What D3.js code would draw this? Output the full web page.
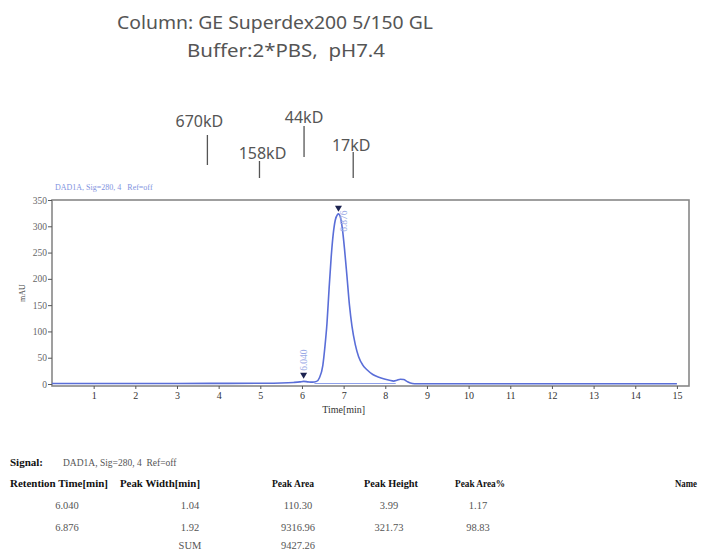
<!DOCTYPE html>
<html><head><meta charset="utf-8">
<script src="https://cdn.jsdelivr.net/npm/d3@7"></script>
<style>body{margin:0;background:#fff}svg{display:block}</style>
</head><body>
<script>
// ---- data ----
const times  = [0,1,2,3,4,5,5.5,5.8,5.95,6.04,6.15,6.25,6.35,6.42,6.5,6.55,6.6,6.65,6.7,6.75,6.8,6.85,6.876,6.92,6.97,7.02,7.08,7.14,7.2,7.28,7.36,7.46,7.56,7.7,7.88,8.0,8.1,8.2,8.28,8.36,8.44,8.52,8.6,8.7,8.85,9,10,11,12,13,14,15];
const signal = [1,1,1,1,1.2,1.5,2,3,4,5,4,3.5,5,12,35,70,115,180,240,285,312,322,323.7,318,295,258,205,150,110,75,52,36,27,18,12,9,7,5.5,7,9,8.5,5,2,0.5,0.5,0.5,0.5,0.5,0.5,0.5,0.5,0.5];
const peakTimes   = [6.040, 6.876];
const peakLabels  = ["6.040", "6.876"];
const peakHeights = [3.99, 321.73];
const mwLabels = ["670kD","158kD","44kD","17kD"];
const mwTimes  = [3.73, 4.98, 6.05, 7.23];
const xTicks = [1,2,3,4,5,6,7,8,9,10,11,12,13,14,15];
const yTicks = [0,50,100,150,200,250,300,350];
const tableHeader = ["Retention Time[min]","Peak Width[min]","Peak Area","Peak Height","Peak Area%"];
const rowRT     = ["6.040","6.876",""];
const rowWidth  = ["1.04","1.92","SUM"];
const rowArea   = ["110.30","9316.96","9427.26"];
const rowHeight = ["3.99","321.73",""];
const rowPct    = ["1.17","98.83",""];

const W = 703, H = 551;
const svg = d3.select("body").append("svg").attr("width", W).attr("height", H);

const L = 52, R = 689, T = 200, B = 386;
const x = d3.scaleLinear().domain([0, 15.29]).range([L, R]);
const y = d3.scaleLinear().domain([-3.8, 350]).range([B, T]);

// titles
const tfont = "'Noto Sans','Open Sans',sans-serif";
svg.append("text").attr("x", 275).attr("y", 29).attr("text-anchor","middle")
  .attr("font-family", tfont).attr("font-size", 18).attr("fill","#555")
  .attr("textLength", 316).attr("lengthAdjust","spacingAndGlyphs")
  .text("Column: GE Superdex200 5/150 GL");
svg.append("text").attr("x", 286).attr("y", 57).attr("text-anchor","middle")
  .attr("font-family", tfont).attr("font-size", 18).attr("fill","#555").attr("xml:space","preserve")
  .attr("textLength", 198).attr("lengthAdjust","spacingAndGlyphs")
  .text("Buffer:2*PBS,  pH7.4");

// MW markers
const mwTextY = [127, 159, 123, 151];
const mwTextDx = [-8, 3, 0, -2];
const mwLineY = [[135,165],[161,178],[126,157],[152,178]];
mwLabels.forEach((lab,i)=>{
  svg.append("text").attr("x", x(mwTimes[i]) + mwTextDx[i]).attr("y", mwTextY[i]).attr("text-anchor","middle")
    .attr("font-family", tfont).attr("font-size", 16).attr("fill","#555").text(lab);
  svg.append("line").attr("x1", x(mwTimes[i])).attr("x2", x(mwTimes[i]))
    .attr("y1", mwLineY[i][0]).attr("y2", mwLineY[i][1]).attr("stroke","#555").attr("stroke-width",1.3);
});

// signal header
svg.append("text").attr("x", 55).attr("y", 190).attr("font-family","'Liberation Serif',serif")
  .attr("font-size", 8).attr("fill","#7f93e0").attr("xml:space","preserve").text("DAD1A, Sig=280, 4   Ref=off");

// frame
svg.append("rect").attr("x", L).attr("y", T).attr("width", R-L).attr("height", B-T)
  .attr("fill","none").attr("stroke","#888").attr("stroke-width",1.6);

// axes
const serif = "'Liberation Serif','DejaVu Serif',serif";
const gx = svg.append("g").attr("transform",`translate(0,${B})`)
  .call(d3.axisBottom(x).tickValues(xTicks).tickSize(3).tickPadding(3));
gx.select(".domain").remove();
gx.selectAll("line").attr("stroke","#555");
gx.selectAll("text").attr("font-family", serif).attr("font-size", 10).attr("fill","#333");

const gy = svg.append("g").attr("transform",`translate(${L},0)`)
  .call(d3.axisLeft(y).tickValues(yTicks).tickSize(4).tickPadding(1));
gy.select(".domain").remove();
gy.selectAll("line").attr("stroke","#555");
gy.selectAll("text").attr("font-family", serif).attr("font-size", 9.5).attr("fill","#666");

svg.append("text").attr("transform",`translate(25,${(T+B)/2}) rotate(-90)`).attr("text-anchor","middle")
  .attr("font-family", serif).attr("font-size", 8).attr("fill","#444").text("mAU");
svg.append("text").attr("x", x(7)).attr("y", 413).attr("text-anchor","middle")
  .attr("font-family", serif).attr("font-size", 10).attr("fill","#333").text("Time[min]");

// integration baseline
svg.append("line").attr("x1", x(6.3)).attr("x2", x(8.25)).attr("y1", y(1)).attr("y2", y(1))
  .attr("stroke","#8ea0ea").attr("stroke-width",1.2);

// signal trace
const pts = times.map((t,i)=>[t, signal[i]]);
const line = d3.line().x(d=>x(d[0])).y(d=>y(d[1])).curve(d3.curveMonotoneX);
svg.append("path").datum(pts).attr("d", line).attr("fill","none")
  .attr("stroke","#5a6ed8").attr("stroke-width",1.6);

// peak markers
peakTimes.forEach((t,i)=>{
  const px = x(t), py = y(peakHeights[i] + 2) - 2;
  svg.append("path").attr("d", `M${px-3.5},${py-6} L${px+3.5},${py-6} L${px},${py} Z`).attr("fill","#1c2350");
  const lx = i === 0 ? px + 3 : px + 9;
  const ty = i === 0 ? py - 8 : py + 20;
  svg.append("text").attr("transform",`translate(${lx},${ty}) rotate(-90)`)
    .attr("font-family", serif).attr("font-size", 9.5).attr("fill","#9aaae6").text(peakLabels[i]);
});

// table
const bold = "'Liberation Serif','DejaVu Serif',serif";
svg.append("text").attr("x", 10).attr("y", 466).attr("font-family", bold).attr("font-weight","bold")
  .attr("font-size", 11).attr("fill","#111").text("Signal:");
svg.append("text").attr("x", 63).attr("y", 466).attr("font-family", serif)
  .attr("font-size", 9.5).attr("fill","#555").attr("xml:space","preserve").text("DAD1A, Sig=280, 4  Ref=off");

const hx = [10, 120, 272, 364, 455];
const hw = [98, 80, 42, 54, 50];
tableHeader.forEach((h,i)=>{
  svg.append("text").attr("x", hx[i]).attr("y", 487).attr("font-family", bold).attr("font-weight","bold")
    .attr("font-size", 10.5).attr("fill","#111").attr("textLength", hw[i]).attr("lengthAdjust","spacingAndGlyphs").text(h);
});
svg.append("text").attr("x", 675).attr("y", 487).attr("font-family", bold).attr("font-weight","bold")
  .attr("font-size", 10).attr("fill","#111").attr("textLength", 22).attr("lengthAdjust","spacingAndGlyphs").text("Name");

const cols = [rowRT,rowWidth,rowArea,rowHeight,rowPct];
const cx = [67, 190, 298, 389, 478];
const ry = [509, 531, 549];
cols.forEach((col,ci)=>{
  col.forEach((v,ri)=>{
    if(!v) return;
    svg.append("text").attr("x", cx[ci]).attr("y", ry[ri]).attr("text-anchor","middle")
      .attr("font-family", serif).attr("font-size", 10.5).attr("fill","#555").text(v);
  });
});
</script>
</body></html>
